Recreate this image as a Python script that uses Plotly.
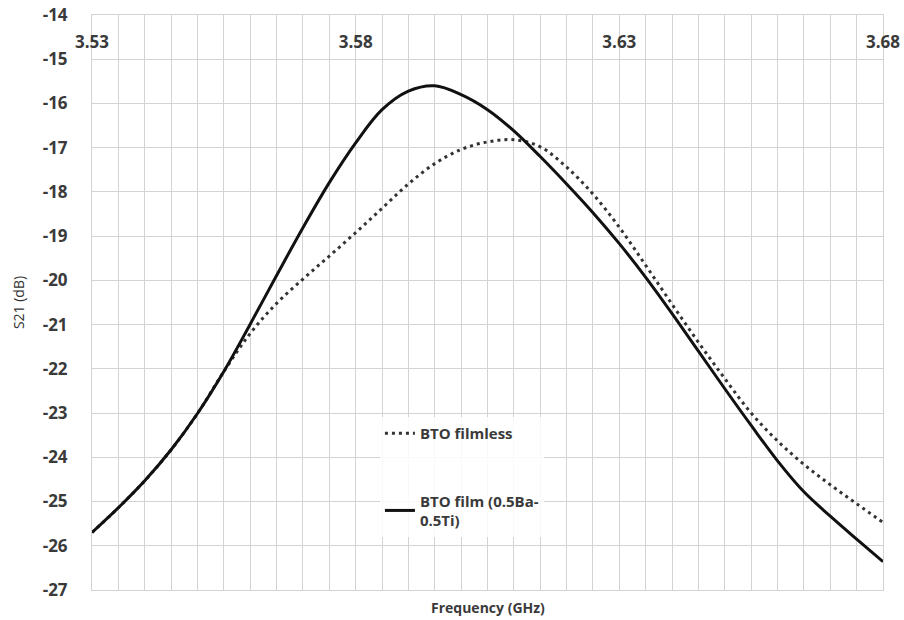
import plotly.graph_objects as go

freq_ghz = [3.530, 3.535, 3.540, 3.545, 3.550, 3.555, 3.560, 3.565, 3.570, 3.575,
            3.580, 3.585, 3.590, 3.595, 3.600, 3.605, 3.610, 3.615, 3.620, 3.625,
            3.630, 3.635, 3.640, 3.645, 3.650, 3.655, 3.660, 3.665, 3.670, 3.675, 3.680]

s21_filmless = [-25.70, -25.14, -24.53, -23.83, -23.01, -22.06, -21.20, -20.52, -19.97, -19.45,
                -18.92, -18.37, -17.82, -17.36, -17.04, -16.87, -16.82, -16.98, -17.44, -18.05,
                -18.80, -19.66, -20.54, -21.40, -22.22, -23.00, -23.63, -24.16, -24.62, -25.05, -25.47]

s21_film = [-25.70, -25.14, -24.53, -23.83, -23.01, -22.06, -20.99, -19.89, -18.81, -17.79,
            -16.89, -16.14, -15.72, -15.60, -15.80, -16.14, -16.62, -17.20, -17.82, -18.47,
            -19.17, -19.93, -20.75, -21.60, -22.45, -23.28, -24.08, -24.78, -25.33, -25.85, -26.36]

x_tick_vals = [3.53, 3.58, 3.63, 3.68]
x_tick_text = ["3.53", "3.58", "3.63", "3.68"]
y_tick_vals = list(range(-27, -13))
y_tick_text = [str(v) for v in y_tick_vals]

name_filmless = "BTO filmless"
name_film = "BTO film (0.5Ba-<br>0.5Ti)"

GRID = "#d3d3d3"
TXT = "#3a3a3a"
FONT = "Open Sans"

fig = go.Figure()
fig.add_trace(go.Scatter(
    x=freq_ghz, y=s21_filmless, name=name_filmless, mode="lines",
    line=dict(color="#333333", width=3, dash="3px,4px", shape="spline", smoothing=1),
    legendgroup="a"))
fig.add_trace(go.Scatter(
    x=freq_ghz, y=s21_film, name=name_film, mode="lines",
    line=dict(color="#111111", width=3, shape="spline", smoothing=1),
    legendgroup="b"))

fig.update_layout(
    width=904, height=620,
    margin=dict(l=92, r=21, t=15, b=30, autoexpand=False),
    paper_bgcolor="white", plot_bgcolor="white",
    font=dict(family=FONT, color=TXT),
    showlegend=True,
    legend=dict(
        x=0.364, y=0.301, xanchor="left", yanchor="top",
        bgcolor="rgba(255,255,255,0.85)",
        font=dict(family=FONT, size=15, color=TXT, weight="bold"),
        tracegroupgap=45, itemwidth=30,
    ),
    xaxis=dict(
        range=[3.53, 3.68], side="top", automargin=False,
        tickmode="array", tickvals=x_tick_vals, ticktext=x_tick_text,
        ticks="", ticklabelposition="inside", ticklabeloverflow="allow",
        ticklabelstandoff=22,
        tickfont=dict(family=FONT, size=17, color=TXT, weight="bold"),
        showgrid=True, gridcolor=GRID, gridwidth=1,
        minor=dict(dtick=0.005, showgrid=True, gridcolor=GRID, gridwidth=1, ticks=""),
        showline=True, linecolor=GRID, linewidth=1, mirror=True,
        zeroline=False,
    ),
    yaxis=dict(
        range=[-27, -14], automargin=False,
        tickmode="array", tickvals=y_tick_vals, ticktext=y_tick_text,
        ticks="", ticklabelstandoff=20, ticklabeloverflow="allow",
        tickfont=dict(family=FONT, size=17, color=TXT, weight="bold"),
        showgrid=True, gridcolor=GRID, gridwidth=1,
        showline=True, linecolor=GRID, linewidth=1, mirror=True,
        zeroline=False,
        title=dict(text="S21 (dB)", standoff=14,
                   font=dict(family=FONT, size=14, color="#333333")),
    ),
    annotations=[dict(
        text="Frequency (GHz)", xref="paper", yref="paper",
        x=0.5, y=0, yshift=-17, xanchor="center", yanchor="middle",
        showarrow=False, font=dict(family=FONT, size=14, color=TXT, weight="bold"),
    )],
)

# remove the page's default 8px body margin so the figure fills the window
fig.write_html("out.html", config={"displayModeBar": False},
               post_script="document.body.style.margin='0px';")
